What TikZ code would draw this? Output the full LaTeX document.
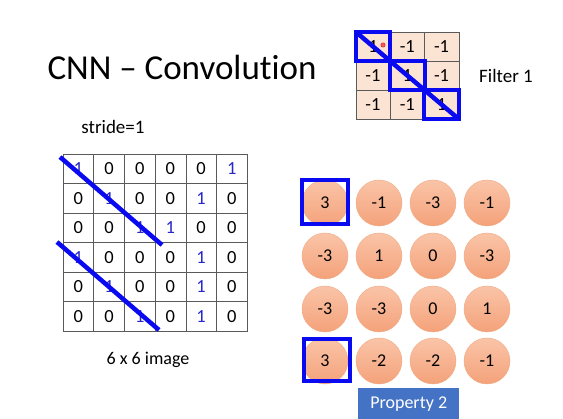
\documentclass[tikz,border=0pt]{standalone}
\usepackage{fontspec}
\setmainfont{Carlito}[Ligatures=CommonOff]
\definecolor{cellfill}{RGB}{252,228,212}
\definecolor{hiblue}{RGB}{10,10,240}
\definecolor{numblue}{RGB}{40,40,200}
\definecolor{ballline}{RGB}{240,170,130}
\definecolor{balltop}{RGB}{250,196,168}
\definecolor{ballbot}{RGB}{244,162,122}
\definecolor{propfill}{RGB}{68,114,196}
\tikzset{
    fcell/.style={draw={rgb,255:red,90;green,90;blue,90},fill=cellfill,minimum width=34.3,minimum height=29,inner sep=0,font=\fontsize{18.5}{18.5}\selectfont},
    icell/.style={draw={rgb,255:red,90;green,90;blue,90},minimum width=30.7,minimum height=29.5,inner sep=0,font=\fontsize{18.5}{18.5}\selectfont},
    one/.style={text=numblue},
    ball/.style={circle,draw=ballline,top color=balltop,bottom color=ballbot,minimum size=46,inner sep=0,font=\fontsize{18}{18}\selectfont},
    hibox/.style={draw=hiblue,line width=4},
    hiline/.style={draw=hiblue,line width=4.5}
}
\begin{document}
\begin{tikzpicture}[x=1pt,y=-1pt]
        \useasboundingbox [fill=white] (0,0) rectangle (563,419);
        % title
        \node (title) at (182,67) {\fontsize{35}{35}\selectfont CNN -- Convolution};
        % filter
        \node [fcell] (f11) at (373,46.5) {1};
        \node [fcell] (f12) at (407.3,46.5) {-1};
        \node [fcell] (f13) at (441.6,46.5) {-1};
        \node [fcell] (f21) at (373,75.5) {-1};
        \node [fcell] (f22) at (407.3,75.5) {1};
        \node [fcell] (f23) at (441.6,75.5) {-1};
        \node [fcell] (f31) at (373,104.5) {-1};
        \node [fcell] (f32) at (407.3,104.5) {-1};
        \node [fcell] (f33) at (441.6,104.5) {1};
        \draw [hibox] (f11.north west) rectangle (f11.south east);
        \draw [hibox] (f22.north west) rectangle (f22.south east);
        \draw [hibox] (f33.north west) rectangle (f33.south east);
        \draw [hiline] (f11.north west) -- (f33.south east);
        \draw [fill={rgb,255:red,240;green,90;blue,90},draw={rgb,255:red,220;green,30;blue,30}] (383,45) circle (2.2);
        \node (filter) at (506,76) {\fontsize{19}{19}\selectfont Filter 1};
        % image
        \node (stride) at (113,127) {\fontsize{19}{19}\selectfont stride=1};
        \node [icell,one] (i11) at (78.3,168.8) {1};
        \node [icell] (i12) at (109,168.8) {0};
        \node [icell] (i13) at (139.7,168.8) {0};
        \node [icell] (i14) at (170.4,168.8) {0};
        \node [icell] (i15) at (201.1,168.8) {0};
        \node [icell,one] (i16) at (231.8,168.8) {1};
        \node [icell] (i21) at (78.3,198.3) {0};
        \node [icell,one] (i22) at (109,198.3) {1};
        \node [icell] (i23) at (139.7,198.3) {0};
        \node [icell] (i24) at (170.4,198.3) {0};
        \node [icell,one] (i25) at (201.1,198.3) {1};
        \node [icell] (i26) at (231.8,198.3) {0};
        \node [icell] (i31) at (78.3,227.8) {0};
        \node [icell] (i32) at (109,227.8) {0};
        \node [icell,one] (i33) at (139.7,227.8) {1};
        \node [icell,one] (i34) at (170.4,227.8) {1};
        \node [icell] (i35) at (201.1,227.8) {0};
        \node [icell] (i36) at (231.8,227.8) {0};
        \node [icell,one] (i41) at (78.3,257.3) {1};
        \node [icell] (i42) at (109,257.3) {0};
        \node [icell] (i43) at (139.7,257.3) {0};
        \node [icell] (i44) at (170.4,257.3) {0};
        \node [icell,one] (i45) at (201.1,257.3) {1};
        \node [icell] (i46) at (231.8,257.3) {0};
        \node [icell] (i51) at (78.3,286.8) {0};
        \node [icell,one] (i52) at (109,286.8) {1};
        \node [icell] (i53) at (139.7,286.8) {0};
        \node [icell] (i54) at (170.4,286.8) {0};
        \node [icell,one] (i55) at (201.1,286.8) {1};
        \node [icell] (i56) at (231.8,286.8) {0};
        \node [icell] (i61) at (78.3,316.3) {0};
        \node [icell] (i62) at (109,316.3) {0};
        \node [icell,one] (i63) at (139.7,316.3) {1};
        \node [icell] (i64) at (170.4,316.3) {0};
        \node [icell,one] (i65) at (201.1,316.3) {1};
        \node [icell] (i66) at (231.8,316.3) {0};
        \coordinate (a1) at (60,157);
        \coordinate (a2) at (162,245);
        \coordinate (b1) at (57,242);
        \coordinate (b2) at (159,330);
        \draw [hiline] (a1) -- (a2);
        \draw [hiline] (b1) -- (b2);
        \node (caption) at (148,360) {\fontsize{18}{18}\selectfont 6 x 6 image};
        % feature map
        \node [ball] (m11) at (325,203) {3};
        \node [ball] (m12) at (379,203) {-1};
        \node [ball] (m13) at (433,203) {-3};
        \node [ball] (m14) at (487,203) {-1};
        \node [ball] (m21) at (325,256) {-3};
        \node [ball] (m22) at (379,256) {1};
        \node [ball] (m23) at (433,256) {0};
        \node [ball] (m24) at (487,256) {-3};
        \node [ball] (m31) at (325,309) {-3};
        \node [ball] (m32) at (379,309) {-3};
        \node [ball] (m33) at (433,309) {0};
        \node [ball] (m34) at (487,309) {1};
        \node [ball] (m41) at (325,361) {3};
        \node [ball] (m42) at (379,361) {-2};
        \node [ball] (m43) at (433,361) {-2};
        \node [ball] (m44) at (487,361) {-1};
        \draw [hibox] (302,180) rectangle (348,224);
        \draw [hibox] (304,339) rectangle (350,381);
        \node [fill=propfill,text=white,minimum width=101,minimum height=31,inner sep=0,anchor=north west,font=\fontsize{18}{18}\selectfont] (prop) at (358,388) {Property 2};
\end{tikzpicture}
\end{document}
